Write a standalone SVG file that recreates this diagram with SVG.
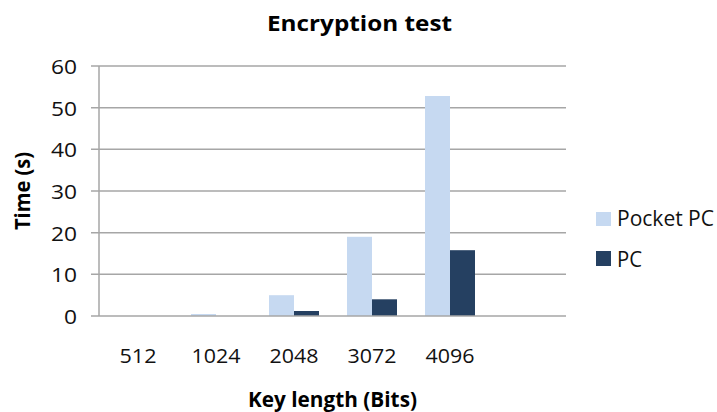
<svg xmlns="http://www.w3.org/2000/svg" width="717" height="412" viewBox="0 0 717 412">
  <style>
    text { font-family: "Open Sans", "Liberation Sans", Arial, sans-serif; fill: #111; }
    .title { font-size: 21.5px; font-weight: bold; fill: #000; }
    .axis-title { font-size: 21px; font-weight: bold; fill: #000; }
    .tick { font-size: 20px; }
    .legend { font-size: 21.5px; }
    .grid { stroke: #a6a6a6; stroke-width: 1.5; fill: none; }
    .pocket { fill: #c6d9f1; }
    .pc { fill: #254061; }
  </style>

  <rect width="717" height="412" fill="#ffffff"/>

  <!-- title -->
  <g id="title">
    <text class="title" x="267" y="31" textLength="185" lengthAdjust="spacingAndGlyphs">Encryption test</text>
  </g>

  <!-- gridlines and value axis -->
  <g id="grid">
    <line class="grid" x1="91" y1="66" x2="566" y2="66"/>
    <line class="grid" x1="91" y1="107.7" x2="566" y2="107.7"/>
    <line class="grid" x1="91" y1="149.3" x2="566" y2="149.3"/>
    <line class="grid" x1="91" y1="191" x2="566" y2="191"/>
    <line class="grid" x1="91" y1="232.7" x2="566" y2="232.7"/>
    <line class="grid" x1="91" y1="274.3" x2="566" y2="274.3"/>
    <line class="grid" x1="99" y1="66" x2="99" y2="316"/>
  </g>

  <!-- y tick labels -->
  <g id="y-labels">
    <text class="tick" x="77" y="74" text-anchor="end" textLength="26" lengthAdjust="spacingAndGlyphs">60</text>
    <text class="tick" x="77" y="115.7" text-anchor="end" textLength="26" lengthAdjust="spacingAndGlyphs">50</text>
    <text class="tick" x="77" y="157.3" text-anchor="end" textLength="26" lengthAdjust="spacingAndGlyphs">40</text>
    <text class="tick" x="77" y="199" text-anchor="end" textLength="26" lengthAdjust="spacingAndGlyphs">30</text>
    <text class="tick" x="77" y="240.7" text-anchor="end" textLength="26" lengthAdjust="spacingAndGlyphs">20</text>
    <text class="tick" x="77" y="282.3" text-anchor="end" textLength="26" lengthAdjust="spacingAndGlyphs">10</text>
    <text class="tick" x="77" y="324" text-anchor="end" textLength="13" lengthAdjust="spacingAndGlyphs">0</text>
  </g>

  <!-- bars -->
  <g id="series-pocket-pc">
    <rect class="pocket" x="191" y="314" width="25" height="2"/>
    <rect class="pocket" x="269" y="295.2" width="25" height="20.8"/>
    <rect class="pocket" x="347" y="236.8" width="25" height="79.2"/>
    <rect class="pocket" x="425" y="96" width="25" height="220"/>
  </g>
  <g id="series-pc">
    <rect class="pc" x="294" y="311" width="25" height="5"/>
    <rect class="pc" x="372" y="299.3" width="25" height="16.7"/>
    <rect class="pc" x="450" y="250.2" width="25" height="65.8"/>
  </g>

  <!-- category axis -->
  <g id="x-axis">
    <line class="grid" x1="91" y1="316" x2="566" y2="316"/>
  </g>

  <!-- x tick labels -->
  <g id="x-labels">
    <text class="tick" x="138" y="363" text-anchor="middle" textLength="37" lengthAdjust="spacingAndGlyphs">512</text>
    <text class="tick" x="216" y="363" text-anchor="middle" textLength="49" lengthAdjust="spacingAndGlyphs">1024</text>
    <text class="tick" x="294" y="363" text-anchor="middle" textLength="49" lengthAdjust="spacingAndGlyphs">2048</text>
    <text class="tick" x="372" y="363" text-anchor="middle" textLength="49" lengthAdjust="spacingAndGlyphs">3072</text>
    <text class="tick" x="450" y="363" text-anchor="middle" textLength="49" lengthAdjust="spacingAndGlyphs">4096</text>
  </g>

  <!-- axis titles -->
  <g id="axis-titles">
    <text class="axis-title" x="248" y="407" textLength="169" lengthAdjust="spacingAndGlyphs">Key length (Bits)</text>
    <text class="axis-title" transform="translate(30,230) rotate(-90)" x="0" y="0" textLength="78" lengthAdjust="spacingAndGlyphs">Time (s)</text>
  </g>

  <!-- legend -->
  <g id="legend">
    <rect class="pocket" x="596" y="212" width="15" height="14"/>
    <text class="legend" x="617" y="226" textLength="97" lengthAdjust="spacingAndGlyphs">Pocket PC</text>
    <rect class="pc" x="596" y="251" width="15" height="15"/>
    <text class="legend" x="617" y="266.5" textLength="25" lengthAdjust="spacingAndGlyphs">PC</text>
  </g>
</svg>
